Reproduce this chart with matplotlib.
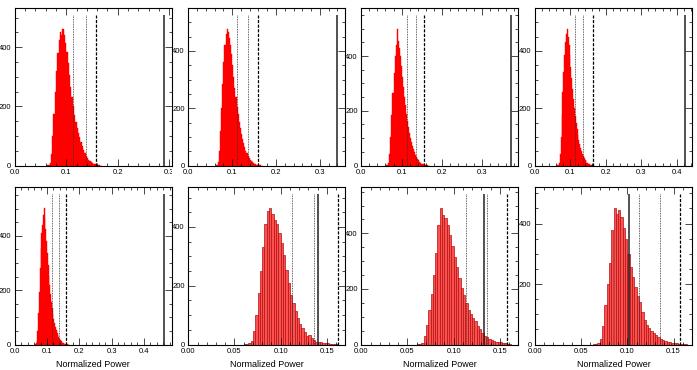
import matplotlib.pyplot as plt
from matplotlib.ticker import MultipleLocator, FormatStrFormatter
from matplotlib.transforms import Bbox, TransformedBbox
import numpy as np

plt.rcParams['font.family'] = ['Liberation Sans', 'DejaVu Sans']

# histogram bins: left edges start at BIN_START, step BIN_WIDTH (44 bins)
BIN_START = 0.060
BIN_WIDTH = 0.0025

counts_1 = [0, 1, 3, 10, 40, 100, 175, 250, 320, 380, 425,
            450, 440, 462, 440, 415, 385, 345, 305, 265, 230, 200,
            172, 148, 128, 110, 95, 80, 66, 53, 42, 33, 26,
            20, 15, 11, 8, 6, 4, 3, 2, 1, 0, 0]
counts_2 = [0, 1, 3, 12, 50, 120, 200, 285, 360, 420, 460,
            477, 465, 445, 420, 390, 350, 310, 272, 238, 205, 178,
            152, 130, 110, 93, 78, 64, 52, 42, 33, 26, 20,
            15, 11, 8, 6, 4, 3, 2, 1, 1, 0, 0]
counts_3 = [0, 1, 2, 9, 42, 105, 185, 265, 340, 400, 440,
            500, 455, 430, 400, 365, 325, 288, 252, 220, 190, 163,
            140, 120, 102, 87, 73, 60, 49, 40, 32, 25, 19,
            14, 10, 7, 5, 4, 3, 2, 1, 1, 0, 0]
counts_4 = [0, 1, 3, 10, 40, 100, 175, 255, 325, 385, 430,
            460, 477, 450, 420, 385, 345, 305, 268, 232, 200, 172,
            148, 126, 107, 90, 75, 62, 50, 40, 32, 25, 19,
            14, 10, 7, 5, 4, 3, 2, 1, 1, 0, 0]
counts_5 = [0, 2, 5, 14, 48, 115, 195, 280, 355, 410, 440,
            475, 503, 465, 425, 380, 335, 292, 252, 218, 186, 158,
            134, 113, 95, 80, 66, 54, 44, 35, 27, 21, 16,
            12, 9, 6, 4, 3, 2, 2, 1, 1, 0, 0]
counts_6 = [1, 2, 5, 12, 45, 100, 175, 250, 330, 410, 455,
            465, 445, 425, 410, 380, 345, 305, 255, 210, 170, 140,
            115, 90, 70, 55, 42, 30, 32, 22, 14, 10, 8,
            8, 6, 5, 4, 3, 2, 1, 1, 0, 0, 0]
counts_7 = [1, 2, 6, 30, 70, 125, 180, 250, 330, 430, 492,
            465, 455, 430, 395, 355, 315, 278, 240, 205, 178, 150,
            125, 108, 95, 85, 68, 55, 40, 32, 27, 20, 16,
            13, 10, 9, 8, 6, 5, 3, 1, 0, 0, 0]
counts_8 = [0, 1, 2, 6, 18, 60, 130, 200, 270, 380, 452,
            430, 445, 420, 385, 350, 300, 255, 222, 190, 160, 140,
            108, 80, 65, 55, 45, 38, 30, 24, 18, 14, 11,
            9, 7, 6, 5, 4, 3, 2, 1, 1, 0, 0]

# reference lines per panel: two dotted levels, a dashed level, the observed (solid) value
dotted_a = [0.113, 0.112, 0.1125, 0.113, 0.114, 0.1123, 0.113, 0.113]
dotted_b = [0.139, 0.136, 0.136, 0.1365, 0.138, 0.136, 0.1358, 0.1356]
dashed = [0.158, 0.158, 0.1567, 0.163, 0.160, 0.162, 0.1574, 0.157]
observed = [0.289, 0.340, 0.3725, 0.422, 0.464, 0.1404, 0.133, 0.1023]

x_max = [0.305, 0.358, 0.390, 0.443, 0.487, 0.170, 0.170, 0.170]
x_step = [0.1, 0.1, 0.1, 0.1, 0.1, 0.05, 0.05, 0.05]

all_counts = [counts_1, counts_2, counts_3, counts_4,
              counts_5, counts_6, counts_7, counts_8]

W, H = 697, 370
fig = plt.figure(figsize=(W / 100, H / 100), dpi=100)

col_left = [14.8, 188.3, 361.3, 535.0]
row_top = [8.3, 187.3]
ax_w, ax_h = 157.0, 157.2

for i, counts in enumerate(all_counts):
    r, c = divmod(i, 4)
    left = col_left[c] / W
    bottom = 1 - (row_top[r] + ax_h) / H
    ax = fig.add_axes([left, bottom, ax_w / W, ax_h / H])

    counts = np.array(counts)
    edges = BIN_START + BIN_WIDTH * np.arange(len(counts))
    peak = counts.max()
    if i >= 5:
        ax.bar(edges, counts, width=BIN_WIDTH, align='edge',
               color='#ff5050', edgecolor='#b01010', linewidth=0.5)
    else:
        ax.bar(edges, counts, width=BIN_WIDTH, align='edge',
               color='#ff0000', edgecolor='#ff0000', linewidth=0.3)

    top = 1.1 * peak
    ax.vlines(dotted_a[i], 0, top, colors='#333333', linestyles=(0, (1, 1)), linewidth=0.6)
    ax.vlines(dotted_b[i], 0, top, colors='#333333', linestyles=(0, (1, 1)), linewidth=0.6)
    ax.vlines(dashed[i], 0, top, colors='black', linestyles=(0, (2.5, 1.2)), linewidth=0.9)
    ax.vlines(observed[i], 0, top, colors='#222222', linewidth=1.1)

    ax.set_xlim(0, x_max[i])
    ax.set_ylim(0, 1.15 * peak)
    ax.xaxis.set_major_locator(MultipleLocator(x_step[i]))
    ax.xaxis.set_minor_locator(MultipleLocator(x_step[i] / 5))
    ax.yaxis.set_major_locator(MultipleLocator(200))
    ax.yaxis.set_minor_locator(MultipleLocator(50))
    ax.xaxis.set_major_formatter(FormatStrFormatter('%.1f' if x_step[i] == 0.1 else '%.2f'))
    ax.tick_params(which='both', direction='in', top=True, right=True,
                   width=0.5, labelsize=5.5, pad=2.5, colors='black')
    ax.tick_params(which='major', length=5)
    ax.tick_params(which='minor', length=2.5)
    for s in ax.spines.values():
        s.set_linewidth(0.8)

    if i == 0:
        ax.set_xticks([0.0, 0.1, 0.2, 0.3])
        ax.set_xlim(0, x_max[i])
        clip = TransformedBbox(Bbox([[0, 0], [left + ax_w / W, 1]]), fig.transFigure)
        for lab in ax.get_xticklabels():
            lab.set_clip_on(True)
            lab.set_clip_box(clip)

    if r == 1:
        ax.text(0.5, -0.125, 'Normalized Power', transform=ax.transAxes,
                ha='center', va='center', fontsize=6.5)

fig.savefig('out.png', dpi=100)
